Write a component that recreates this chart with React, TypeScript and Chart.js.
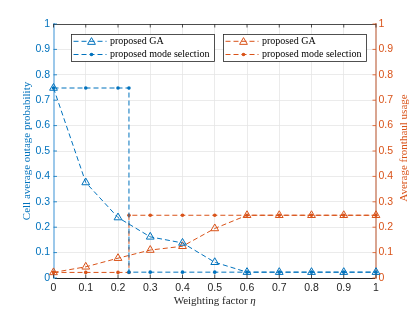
import { useEffect, useRef } from 'react';
import { Chart, registerables } from 'chart.js';

Chart.register(...registerables);

const BLUE = '#0072BD';
const ORANGE = '#D95319';
const DARK = '#262626';

const xValues = [0, 0.1, 0.2, 0.3, 0.4, 0.5, 0.6, 0.7, 0.8, 0.9, 1];
const gaOutage = [0.748, 0.376, 0.238, 0.162, 0.138, 0.062, 0.023, 0.023, 0.023, 0.023, 0.023];
const gaFronthaul = [0.022, 0.044, 0.078, 0.11, 0.125, 0.195, 0.247, 0.247, 0.247, 0.247, 0.247];

const modeX = [0, 0.1, 0.2, 0.234, 0.234, 0.3, 0.4, 0.5, 0.6, 0.7, 0.8, 0.9, 1];
const modeOutage = [0.748, 0.748, 0.748, 0.748, 0.023, 0.023, 0.023, 0.023, 0.023, 0.023, 0.023, 0.023, 0.023];
const modeFronthaul = [0.022, 0.022, 0.022, 0.022, 0.247, 0.247, 0.247, 0.247, 0.247, 0.247, 0.247, 0.247, 0.247];

const xTickLabels = ['0', '0.1', '0.2', '0.3', '0.4', '0.5', '0.6', '0.7', '0.8', '0.9', '1'];
const yTickLabels = ['0', '0.1', '0.2', '0.3', '0.4', '0.5', '0.6', '0.7', '0.8', '0.9', '1'];

const legendLabels = ['proposed GA', 'proposed mode selection'];
const leftTitle = 'Cell average outage probability';
const rightTitle = 'Average fronthaul usage';
const xTitle = 'Weighting factor ';
const xTitleSymbol = 'η';

const pts = (xs: number[], ys: number[]) => xs.map((x, i) => ({ x, y: ys[i] }));

function drawMarker(ctx: CanvasRenderingContext2D, style: string, x: number, y: number, color: string) {
  ctx.save();
  ctx.setLineDash([]);
  ctx.strokeStyle = color;
  ctx.fillStyle = color;
  ctx.lineWidth = 1;
  if (style === 'triangle') {
    const r = 4.5;
    ctx.beginPath();
    for (let k = 0; k < 3; k++) {
      const a = (k * 2 * Math.PI) / 3;
      const px = x + Math.sin(a) * r;
      const py = y - Math.cos(a) * r;
      if (k === 0) ctx.moveTo(px, py);
      else ctx.lineTo(px, py);
    }
    ctx.closePath();
    ctx.stroke();
  } else {
    ctx.beginPath();
    ctx.arc(x, y, 1.8, 0, Math.PI * 2);
    ctx.fill();
  }
  ctx.restore();
}

const decorPlugin = {
  id: 'decor',
  afterDraw(chart: any) {
    const ctx: CanvasRenderingContext2D = chart.ctx;
    const { left, right, top, bottom } = chart.chartArea;
    const xs = chart.scales.x;
    const ys = chart.scales.y;
    const ys1 = chart.scales.y1;
    ctx.save();
    // top border
    ctx.strokeStyle = DARK;
    ctx.lineWidth = 0.8;
    ctx.beginPath();
    ctx.moveTo(left, top + 0.5);
    ctx.lineTo(right, top + 0.5);
    ctx.stroke();
    // inward ticks
    xs.ticks.forEach((t: any) => {
      const px = xs.getPixelForValue(t.value);
      ctx.beginPath();
      ctx.moveTo(px, top);
      ctx.lineTo(px, top + 3.5);
      ctx.moveTo(px, bottom);
      ctx.lineTo(px, bottom - 3.5);
      ctx.stroke();
    });
    ctx.strokeStyle = BLUE;
    ys.ticks.forEach((t: any) => {
      const py = ys.getPixelForValue(t.value);
      ctx.beginPath();
      ctx.moveTo(left, py);
      ctx.lineTo(left + 3.5, py);
      ctx.stroke();
    });
    ctx.strokeStyle = ORANGE;
    ys1.ticks.forEach((t: any) => {
      const py = ys1.getPixelForValue(t.value);
      ctx.beginPath();
      ctx.moveTo(right, py);
      ctx.lineTo(right - 3.5, py);
      ctx.stroke();
    });

    // axis titles
    const midY = (top + bottom) / 2;
    ctx.font = '11px "Liberation Serif", "Times New Roman", serif';
    ctx.textAlign = 'center';
    ctx.textBaseline = 'middle';
    ctx.fillStyle = BLUE;
    ctx.save();
    ctx.translate(27, midY);
    ctx.rotate(-Math.PI / 2);
    ctx.fillText(leftTitle, 0, 0);
    ctx.restore();
    ctx.fillStyle = ORANGE;
    ctx.save();
    ctx.translate(404, midY - 3);
    ctx.rotate(-Math.PI / 2);
    ctx.fillText(rightTitle, 0, 0);
    ctx.restore();

    // x title
    ctx.fillStyle = DARK;
    const w1 = ctx.measureText(xTitle).width;
    ctx.font = 'italic 11px "Liberation Serif", "Times New Roman", serif';
    const w2 = ctx.measureText(xTitleSymbol).width;
    const cx = (left + right) / 2;
    const startX = cx - (w1 + w2) / 2;
    ctx.textAlign = 'left';
    ctx.font = '11px "Liberation Serif", "Times New Roman", serif';
    ctx.fillText(xTitle, startX, 301);
    ctx.font = 'italic 11px "Liberation Serif", "Times New Roman", serif';
    ctx.fillText(xTitleSymbol, startX + w1, 301);

    // legends
    const boxes = [
      { x: 71.5, color: BLUE },
      { x: 223.5, color: ORANGE },
    ];
    boxes.forEach((b) => {
      const bx = b.x;
      const by = 34.5;
      const bw = 143;
      const bh = 27;
      ctx.fillStyle = '#ffffff';
      ctx.fillRect(bx, by, bw, bh);
      ctx.strokeStyle = DARK;
      ctx.lineWidth = 0.8;
      ctx.setLineDash([]);
      ctx.strokeRect(bx, by, bw, bh);
      const rows = [
        { y: by + 6.8, style: 'triangle', label: legendLabels[0] },
        { y: by + 20, style: 'dot', label: legendLabels[1] },
      ];
      rows.forEach((r) => {
        ctx.save();
        ctx.strokeStyle = b.color;
        ctx.lineWidth = 1;
        ctx.setLineDash([5, 3]);
        ctx.beginPath();
        ctx.moveTo(bx + 2, r.y);
        ctx.lineTo(bx + 35, r.y);
        ctx.stroke();
        ctx.restore();
        drawMarker(ctx, r.style, bx + 20, r.style === 'triangle' ? r.y + 0.8 : r.y, b.color);
        ctx.fillStyle = '#000000';
        ctx.font = '10px "Liberation Serif", "Times New Roman", serif';
        ctx.textAlign = 'left';
        ctx.textBaseline = 'middle';
        ctx.fillText(r.label, bx + 38.5, r.y);
      });
    });
    ctx.restore();
  },
};

export default function App() {
  const ref = useRef<HTMLCanvasElement>(null);
  useEffect(() => {
    document.body.style.margin = '0';
    const canvas = ref.current;
    if (!canvas) return;
    const tickFont = { family: '"Liberation Sans", Arial, sans-serif', size: 10.5 };
    const common = {
      borderWidth: 1,
      borderDash: [5, 3],
      clip: false as any,
      tension: 0,
    };
    const chart = new Chart(canvas, {
      type: 'line',
      data: {
        datasets: [
          {
            ...common,
            label: 'proposed GA (outage)',
            data: pts(xValues, gaOutage),
            borderColor: BLUE,
            pointStyle: 'triangle',
            pointRadius: 4.5,
            pointBorderColor: BLUE,
            pointBackgroundColor: 'rgba(0,0,0,0)',
            pointBorderWidth: 1,
            yAxisID: 'y',
          },
          {
            ...common,
            label: 'proposed mode selection (outage)',
            data: pts(modeX, modeOutage),
            borderColor: BLUE,
            pointStyle: 'circle',
            pointRadius: 1.8,
            pointBorderWidth: 0,
            pointBackgroundColor: BLUE,
            yAxisID: 'y',
          },
          {
            ...common,
            label: 'proposed GA (fronthaul)',
            data: pts(xValues, gaFronthaul),
            borderColor: ORANGE,
            pointStyle: 'triangle',
            pointRadius: 4.5,
            pointBorderColor: ORANGE,
            pointBackgroundColor: 'rgba(0,0,0,0)',
            pointBorderWidth: 1,
            yAxisID: 'y1',
          },
          {
            ...common,
            label: 'proposed mode selection (fronthaul)',
            data: pts(modeX, modeFronthaul),
            borderColor: ORANGE,
            pointStyle: 'circle',
            pointRadius: 1.8,
            pointBorderWidth: 0,
            pointBackgroundColor: ORANGE,
            yAxisID: 'y1',
          },
        ],
      },
      options: {
        animation: false,
        responsive: false,
        maintainAspectRatio: false,
        layout: { padding: { top: 24, left: 0, right: 0, bottom: 0 } },
        plugins: {
          legend: { display: false },
          tooltip: { enabled: false },
          title: { display: false },
        },
        scales: {
          x: {
            type: 'linear',
            min: 0,
            max: 1,
            ticks: {
              stepSize: 0.1,
              color: DARK,
              font: tickFont,
              padding: 4,
              maxRotation: 0,
              callback: (_v: any, i: number) => xTickLabels[i],
            },
            grid: { color: '#e6e6e6', lineWidth: 0.8, drawTicks: false },
            border: { display: true, color: DARK, width: 1 },
            afterFit: (s: any) => {
              s.height = 34;
            },
          },
          y: {
            type: 'linear',
            position: 'left',
            min: 0,
            max: 1,
            ticks: {
              stepSize: 0.1,
              color: BLUE,
              font: tickFont,
              padding: 3.5,
              callback: (_v: any, i: number) => yTickLabels[i],
            },
            grid: { color: '#e6e6e6', lineWidth: 0.8, drawTicks: false },
            border: { display: true, color: '#9cc8ea', width: 2 },
            afterFit: (s: any) => {
              s.width = 53.5;
            },
          },
          y1: {
            type: 'linear',
            position: 'right',
            min: 0,
            max: 1,
            ticks: {
              stepSize: 0.1,
              color: ORANGE,
              font: tickFont,
              padding: 2.5,
              callback: (_v: any, i: number) => yTickLabels[i],
            },
            grid: { display: false, drawTicks: false },
            border: { display: true, color: '#d9a591', width: 2 },
            afterFit: (s: any) => {
              s.width = 39;
            },
          },
        },
      },
      plugins: [decorPlugin],
    } as any);
    return () => chart.destroy();
  }, []);
  return (
    <div style={{ width: 415, height: 312 }}>
      <canvas ref={ref} width={415} height={312} style={{ display: 'block' }} />
    </div>
  );
}
